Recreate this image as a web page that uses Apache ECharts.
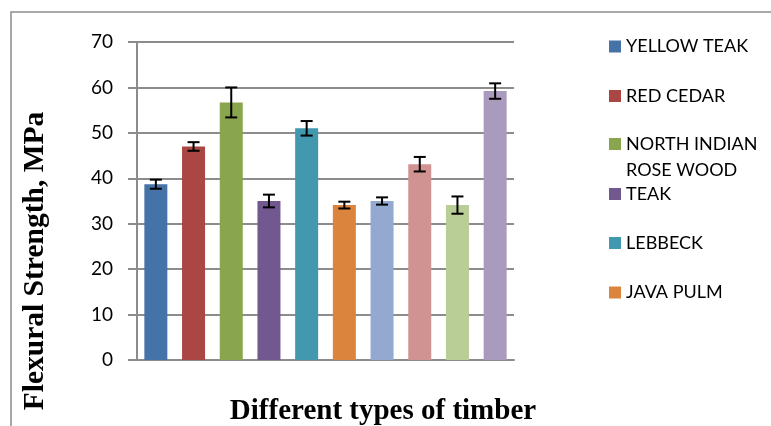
<!DOCTYPE html>
<html>
<head>
<meta charset="utf-8">
<script src="https://cdn.jsdelivr.net/npm/echarts@6/dist/echarts.min.js"></script>
<style>
html,body{margin:0;padding:0;background:#fff;}
#chart{width:771px;height:426px;}
</style>
</head>
<body>
<div id="chart"></div>
<script>
var seriesNames = ['YELLOW TEAK', 'RED CEDAR', 'NORTH INDIAN\nROSE WOOD', 'TEAK', 'LEBBECK', 'JAVA PULM', 'Series 7', 'Series 8', 'Series 9', 'Series 10'];
var legendNames = ['YELLOW TEAK', 'RED CEDAR', 'NORTH INDIAN\nROSE WOOD', 'TEAK', 'LEBBECK', 'JAVA PULM'];
var values = [38.7, 47.0, 56.7, 35.0, 51.0, 34.1, 35.0, 43.1, 34.1, 59.2];
var errors = [1.0, 0.95, 3.3, 1.4, 1.6, 0.75, 0.8, 1.6, 1.9, 1.7];
var colors = ['#4572A7', '#AA4643', '#89A54E', '#71588F', '#4198AF', '#DB843D', '#93A9CF', '#D19392', '#B9CD96', '#A99BBD'];
var yTicks = [0, 10, 20, 30, 40, 50, 60, 70];
var xTitle = 'Different types of timber';
var yTitle = 'Flexural Strength, MPa';

var cats = values.map(function (v, i) { return String(i); });
var series = seriesNames.map(function (name, i) {
  var d = values.map(function () { return null; });
  d[i] = values[i];
  return {
    name: name, type: 'bar', data: d, barWidth: 23, barGap: '-100%',
    itemStyle: { color: colors[i] }, silent: true
  };
});
series.push({
  type: 'custom', name: 'err', silent: true, z: 10,
  data: values.map(function (v, i) { return [i, v - errors[i], v + errors[i]]; }),
  renderItem: function (params, api) {
    var lo = api.coord([api.value(0), api.value(1)]);
    var hi = api.coord([api.value(0), api.value(2)]);
    var hw = 6;
    var st = { stroke: '#000', lineWidth: 2 };
    return { type: 'group', children: [
      { type: 'line', shape: { x1: lo[0], y1: lo[1], x2: hi[0], y2: hi[1] }, style: st },
      { type: 'line', shape: { x1: lo[0] - hw, y1: lo[1], x2: lo[0] + hw, y2: lo[1] }, style: st },
      { type: 'line', shape: { x1: hi[0] - hw, y1: hi[1], x2: hi[0] + hw, y2: hi[1] }, style: st }
    ]};
  }
});

// legend item centres (px)
var legendCenters = [46.5, 96, 144, 194, 243, 292.5];
var LH = 26;
var legends = legendNames.map(function (n, i) {
  var multi = n.indexOf('\n') >= 0;
  return {
    data: [n], orient: 'vertical', left: 609,
    top: multi ? legendCenters[i] - LH * 1.5 : legendCenters[i] - LH / 2,
    itemWidth: 12, itemHeight: 12, itemGap: 6, icon: 'rect', padding: 0,
    selectedMode: false,
    formatter: function (name) { return name.indexOf('\n') >= 0 ? ' \n' + name : name; },
    textStyle: { fontFamily: 'Lato', fontSize: 18, color: '#000', lineHeight: LH }
  };
});

var chart = echarts.init(document.getElementById('chart'));
chart.setOption({
  animation: false,
  backgroundColor: '#fff',
  grid: { left: 137, right: 257, top: 42, bottom: 66, containLabel: false, outerBoundsMode: 'none' },
  legend: legends,
  xAxis: {
    type: 'category', data: cats,
    axisLine: { lineStyle: { color: '#8c8c8c', width: 2 } },
    axisTick: { show: false }, axisLabel: { show: false }
  },
  yAxis: {
    type: 'value', min: 0, max: 70, interval: 10,
    axisLine: { show: true, lineStyle: { color: '#8c8c8c', width: 2 } },
    axisTick: { show: true, length: 9, lineStyle: { color: '#8c8c8c', width: 2 } },
    splitLine: { lineStyle: { color: '#8c8c8c', width: 2 } },
    axisLabel: { fontFamily: 'Lato', fontSize: 19, color: '#000', margin: 24,
      formatter: function (v) { return yTicks.indexOf(v) >= 0 ? String(v) : ''; } }
  },
  graphic: [{
    type: 'rect', shape: { x: 11, y: 12, width: 800, height: 450 },
    style: { fill: null, stroke: '#8c8c8c', lineWidth: 1.5 }, z: -1, silent: true
  }, {
    type: 'text', x: 383, y: 412, silent: true,
    style: { text: xTitle, font: 'bold 29px "Liberation Serif"', fill: '#000', align: 'center', verticalAlign: 'middle' }
  }, {
    type: 'text', x: 35, y: 261, rotation: Math.PI / 2, silent: true,
    style: { text: yTitle, font: 'bold 29.5px "Liberation Serif"', fill: '#000', align: 'center', verticalAlign: 'middle' }
  }],
  series: series
});
</script>
</body>
</html>
